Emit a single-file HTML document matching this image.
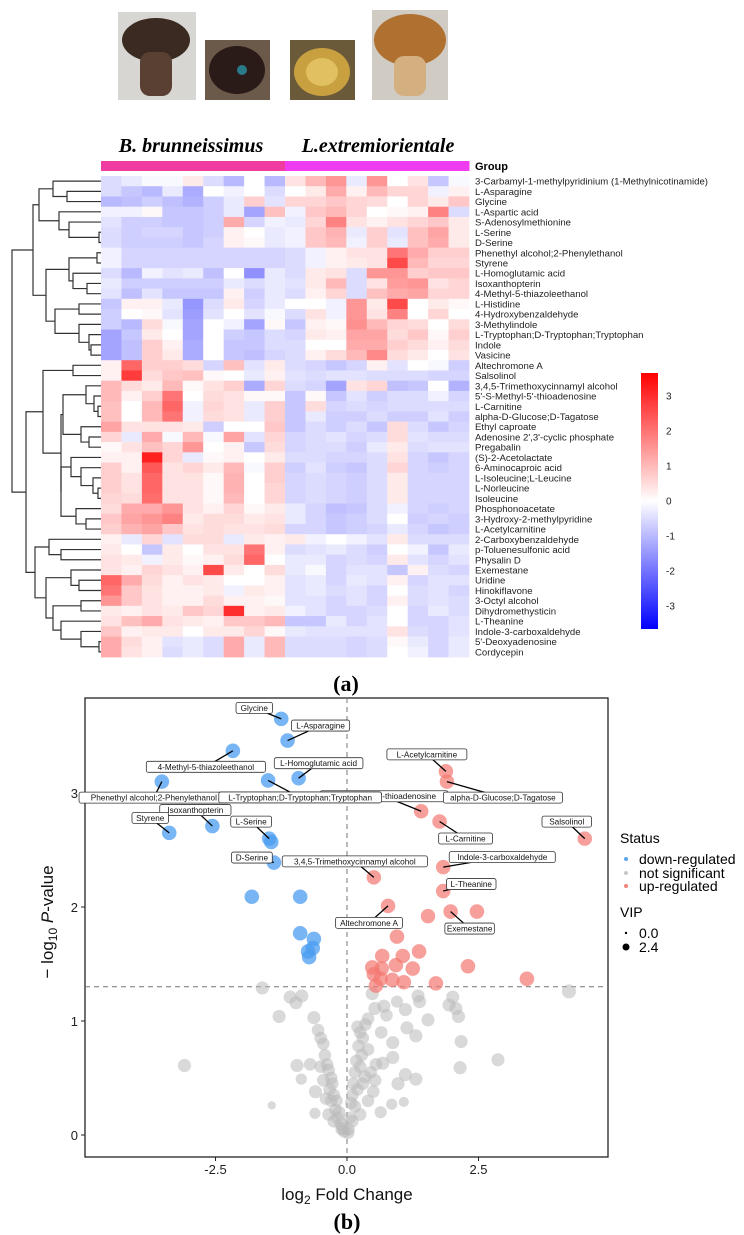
<!DOCTYPE html>
<html><head><meta charset="utf-8">
<style>
html,body{margin:0;padding:0;background:#fff;}
body{width:744px;height:1235px;overflow:hidden;font-family:"Liberation Sans",sans-serif;}
svg{display:block;}
</style></head>
<body>
<svg id="fig" width="744" height="1235" viewBox="0 0 744 1235" xmlns="http://www.w3.org/2000/svg">
  <defs>
    <linearGradient id="cbar" x1="0" y1="0" x2="0" y2="1">
      <stop offset="0" stop-color="#ff0000"/>
      <stop offset="0.5" stop-color="#ffffff"/>
      <stop offset="1" stop-color="#0000ff"/>
    </linearGradient>
  </defs>
  <g>
    <g>
      <rect x="118" y="12" width="78" height="88" fill="#d8d6d2"/>
      <ellipse cx="156" cy="40" rx="34" ry="22" fill="#3a2a22"/>
      <rect x="140" y="52" width="32" height="44" rx="10" fill="#5a4032"/>
    </g>
    <g>
      <rect x="205" y="40" width="65" height="60" fill="#6b5a4a"/>
      <ellipse cx="237" cy="70" rx="28" ry="24" fill="#2a1a18"/>
      <circle cx="242" cy="70" r="5" fill="#2a7a8a"/>
    </g>
    <g>
      <rect x="290" y="40" width="65" height="60" fill="#6a5a3a"/>
      <ellipse cx="322" cy="72" rx="28" ry="24" fill="#c8a040"/>
      <ellipse cx="322" cy="72" rx="16" ry="14" fill="#e0c060"/>
    </g>
    <g>
      <rect x="372" y="10" width="76" height="90" fill="#d0ccc4"/>
      <ellipse cx="410" cy="40" rx="36" ry="26" fill="#b07030"/>
      <rect x="394" y="56" width="32" height="40" rx="10" fill="#d4b080"/>
    </g>
  </g>
  <text x="191" y="152" text-anchor="middle" font-family="Liberation Serif,serif" font-style="italic" font-weight="bold" font-size="20" fill="#000">B. brunneissimus</text>
  <text x="378" y="152" text-anchor="middle" font-family="Liberation Serif,serif" font-style="italic" font-weight="bold" font-size="20" fill="#000">L.extremiorientale</text>

  <g id="heatmap"></g>
  <g id="dendro"></g>
  <g id="hlabels"></g>
  <text x="475" y="170" font-size="11" font-weight="bold" fill="#000">Group</text>

  <g>
    <rect x="641" y="373" width="17" height="256" fill="url(#cbar)"/>
    <g id="cbticks" font-size="10" fill="#222"></g>
  </g>
  <text x="346" y="691" text-anchor="middle" font-family="Liberation Serif,serif" font-weight="bold" font-size="22" fill="#000">(a)</text>

  <g id="volcano"></g>

  <g font-size="14" fill="#000">
    <text x="620" y="843">Status</text>
    <circle cx="626" cy="859" r="2" fill="#5aa8f0"/>
    <text x="639" y="864">down-regulated</text>
    <circle cx="626" cy="873" r="2" fill="#c8c8c8"/>
    <text x="639" y="878">not significant</text>
    <circle cx="626" cy="886" r="2" fill="#f4837d"/>
    <text x="639" y="891">up-regulated</text>
    <text x="620" y="917">VIP</text>
    <circle cx="626" cy="933" r="1.2" fill="#000"/>
    <text x="639" y="938">0.0</text>
    <circle cx="626" cy="947" r="3.5" fill="#000"/>
    <text x="639" y="952">2.4</text>
  </g>
  <text x="347" y="1229" text-anchor="middle" font-family="Liberation Serif,serif" font-weight="bold" font-size="22" fill="#000">(b)</text>
</svg>
<script>
const NS="http://www.w3.org/2000/svg";
const rowNames=["3-Carbamyl-1-methylpyridinium (1-Methylnicotinamide)","L-Asparagine","Glycine","L-Aspartic acid","S-Adenosylmethionine","L-Serine","D-Serine","Phenethyl alcohol;2-Phenylethanol","Styrene","L-Homoglutamic acid","Isoxanthopterin","4-Methyl-5-thiazoleethanol","L-Histidine","4-Hydroxybenzaldehyde","3-Methylindole","L-Tryptophan;D-Tryptophan;Tryptophan","Indole","Vasicine","Altechromone A","Salsolinol","3,4,5-Trimethoxycinnamyl alcohol","5'-S-Methyl-5'-thioadenosine","L-Carnitine","alpha-D-Glucose;D-Tagatose","Ethyl caproate","Adenosine 2',3'-cyclic phosphate","Pregabalin","(S)-2-Acetolactate","6-Aminocaproic acid","L-Isoleucine;L-Leucine","L-Norleucine","Isoleucine","Phosphonoacetate","3-Hydroxy-2-methylpyridine","L-Acetylcarnitine","2-Carboxybenzaldehyde","p-Toluenesulfonic acid","Physalin D","Exemestane","Uridine","Hinokiflavone","3-Octyl alcohol","Dihydromethysticin","L-Theanine","Indole-3-carboxaldehyde","5'-Deoxyadenosine","Cordycepin"];
const sampleGroups=["B","B","B","B","B","B","B","B","B","L","L","L","L","L","L","L","L","L"];
const heatValues=[
[-0.5,-0.3,-0.1,-0.1,0.3,-0.5,-1,0,-1,0.4,1,1.5,-0.3,1.5,0,0.4,-0.8,-0.1],
[-0.5,-0.8,-1,-0.3,-1.2,0,-0.2,0,-0.5,0,0.3,1.2,0.2,1,0.6,0.6,-0.2,0.2],
[-1,-0.9,-0.7,-0.9,-1.1,-0.7,-0.3,0.7,-0.4,0.6,0.6,0.8,0.6,0.5,0,0.6,0.3,0.8],
[-0.2,-0.2,0.1,-0.8,-0.8,-0.7,-0.3,-1.3,0.9,-0.2,0.8,1,0.6,0,0.1,0.2,1.8,-0.5],
[-0.4,-0.7,-0.7,-0.8,-0.8,-0.7,1.2,-0.6,-0.2,-0.3,0.6,1.8,0.4,0.2,0.4,0.6,0.8,0.3],
[-0.5,-0.7,-0.6,-0.6,-0.8,-0.7,0.2,0,-0.3,-0.2,0.8,1.1,-0.3,0.7,-0.4,0.9,1.3,0.3],
[-0.5,-0.7,-0.7,-0.7,-0.8,-0.6,0.2,0.1,-0.3,-0.2,0.8,1,-0.2,0.7,-0.3,0.9,1.2,0.3],
[-0.2,-0.6,-0.6,-0.6,-0.6,-0.6,-0.6,-0.6,-0.6,-0.5,-0.2,0.2,0.4,0.4,2,1.2,0.7,0.7],
[-0.2,-0.6,-0.6,-0.6,-0.6,-0.6,-0.6,-0.6,-0.6,-0.5,-0.2,0.2,0.3,0.4,2.6,1,0.6,0.6],
[-0.5,-1,-0.2,-0.4,-0.3,-0.9,0,-1.6,-0.3,-0.5,0.3,0.4,-0.5,1.5,1.5,0.7,0.8,0.8],
[-0.3,-0.7,-0.7,-0.7,-0.7,-0.7,-0.3,-0.5,-0.3,-0.4,0.3,1,-0.5,0.4,1.4,1.5,0.4,0.6],
[-0.4,-0.9,-0.4,-0.8,-0.8,-0.8,0.2,-0.7,-0.3,-0.5,0.2,0.6,-0.5,0.9,1.2,1.3,0.6,0.6],
[-0.8,0.2,0.2,-0.3,-1.5,-0.5,0.3,-0.6,-0.3,0,0,-0.2,1.5,0.3,2.6,0,0.3,0.1],
[-0.7,0,0.1,-0.4,-1.4,-0.4,0,-0.4,-0.1,-0.5,0.4,-0.2,1.5,0.4,1.8,0,0.6,0],
[-0.7,-1,0.5,-0.1,-1.3,0,-0.2,-1.3,0.1,-0.8,0.2,0.1,1.6,1,0.6,0.5,0,0.5],
[-1.3,-0.8,0.3,0,-1.3,0,-0.7,-0.8,-0.5,-0.6,0.3,0.2,1.3,1.3,0.5,0.8,0.1,0.7],
[-1.3,-0.9,0.7,0.2,-1.2,0,-0.8,-0.8,-0.5,-0.5,0,0,1.2,1.2,0.7,0.5,0.2,0.5],
[-1.3,-0.9,0.7,0.3,-1.2,0,-0.8,-0.9,-0.6,-0.5,0.2,0.5,1,1.7,0.5,0.3,0,0.4],
[0.2,2.2,0.7,0.7,0.5,-0.6,0.9,-0.4,0.3,-0.5,-0.6,-0.8,-0.6,0.2,-0.4,0,-0.1,-0.7],
[0.2,2.8,0.5,0.8,0.9,0.1,0,-0.3,0.2,-0.4,-0.5,-0.4,-0.4,-0.5,-0.5,-0.5,-0.6,-0.6],
[1,0.5,0.3,1,0.1,0.4,0.7,-1.2,0.6,-0.5,-0.6,-1.3,0.4,0.6,-0.9,-0.8,0,-1.1],
[1,0.2,0.7,2,0,0.5,0.4,0.1,0.1,-0.8,0.1,-0.8,-0.4,-0.7,-0.5,-0.5,-0.2,-0.6],
[0.9,0,1,2.2,-0.2,0.6,0.4,-0.3,0.7,-0.8,0.5,-0.6,-0.5,-0.6,-0.5,-0.5,-0.5,-0.5],
[0.9,0,1,2,-0.2,0.5,0.4,-0.3,0.7,-0.8,-0.3,-0.7,-0.7,-0.5,-0.7,-0.7,-0.4,-0.7],
[1.3,0.4,0.4,0.4,0.3,-0.7,0,0,0.8,-0.8,-0.5,-0.7,-0.5,-0.8,0.5,-0.5,-0.8,-0.6],
[0.6,-0.3,1.2,-0.1,1,-0.1,1.3,-0.4,0.6,-0.6,-0.5,-0.4,-0.6,-0.5,0.5,-0.4,-0.5,-0.5],
[0.1,0.4,0.9,0.6,1.5,0,0.2,-0.8,0.5,-0.6,-0.5,-0.5,-0.7,-0.3,0.3,-0.5,-0.4,-0.4],
[0.2,0.2,3.2,0.6,-0.3,0.1,0.2,0,0.3,-0.5,-0.5,-0.6,-0.6,-0.5,0.4,-0.6,-0.8,-0.6],
[0.7,0.2,2.4,0.4,0.6,0.3,1,-0.1,0.7,-0.7,-0.4,-0.7,-0.8,-0.5,0.6,-0.6,-0.7,-0.6],
[0.7,0.4,2.2,0.4,0.4,0.1,1.1,0,0.7,-0.6,-0.5,-0.6,-0.7,-0.5,0.3,-0.6,-0.6,-0.6],
[0.7,0.4,2.2,0.4,0.4,0.1,1.1,0,0.6,-0.6,-0.5,-0.6,-0.7,-0.5,0.3,-0.6,-0.6,-0.6],
[0.6,0.5,2.1,0.4,0.4,0.1,1,0,0.6,-0.6,-0.5,-0.6,-0.7,-0.5,0.3,-0.6,-0.6,-0.6],
[0.5,1.2,1.2,1.5,0.4,0.2,0.6,0.1,0.3,-0.3,-0.6,-0.9,-0.8,-0.5,-0.2,-0.6,-0.7,-0.6],
[0.8,1.3,1.5,1.8,0.3,0.5,0.5,0.3,0.4,-0.3,-0.6,-0.8,-0.7,-0.5,0,-0.7,-0.6,-0.7],
[0.7,1.1,1.3,0.8,0.4,0.5,0.4,0.4,0.5,-0.6,-0.6,-0.8,-0.7,-0.6,-0.3,-0.6,-0.8,-0.7],
[0.2,-0.3,0.6,-0.4,0.5,0.5,-0.3,0.3,0.2,0.3,-0.2,0,-0.2,-0.4,0.3,-0.5,-0.5,-0.5],
[0.3,0,-0.8,0.3,0,0.4,0.4,2,0.2,-0.5,-0.4,-0.3,-0.5,-0.7,0,-0.2,-0.8,-0.3],
[0.4,0.3,-0.2,0.3,0.1,0.2,0.5,2.2,0,-0.3,-0.3,-0.6,-0.5,-0.6,0.3,-0.4,-0.6,-0.4],
[0.4,0.2,0.6,0.4,0.2,2.6,0.3,0,0.5,-0.3,-0.1,-0.6,-0.4,-0.4,-0.8,0.2,-0.5,-0.6],
[2.2,1.2,0.5,0.2,0.4,0.3,0,0,0.2,-0.4,-0.3,-0.6,-0.3,-0.4,0.2,-0.6,-0.4,-0.4],
[2,0.8,0.4,0.2,0.2,0.3,-0.2,0.3,0.2,-0.4,-0.3,-0.5,-0.4,-0.6,0,-0.5,-0.4,-0.6],
[1.5,0.8,0.4,0.2,0.2,0.5,0.2,0.2,0.1,-0.4,-0.4,-0.6,-0.4,-0.6,0.2,-0.5,-0.4,-0.5],
[0.3,0.2,0.4,0.3,0.8,0.6,3,0.2,0.3,-0.2,-0.4,-0.6,-0.6,-0.5,0,-0.6,-0.3,-0.5],
[0.4,0.9,1.2,0.4,0.3,0.2,0.8,0.8,1,-0.8,-0.8,-0.3,-0.6,-0.4,0,-0.6,-0.6,-0.4],
[0.8,0.2,0.3,0.3,0,0.3,0.3,0.6,0.1,-0.3,-0.4,-0.4,-0.4,-0.4,0.4,-0.5,-0.6,-0.4],
[1.2,0.5,0.2,-0.4,-0.3,-0.5,1.2,-0.3,1,-0.5,-0.5,-0.5,-0.6,-0.5,0.1,-0.3,-0.6,-0.3],
[1.2,0.4,0.2,-0.5,-0.3,-0.5,1.2,-0.3,1,-0.5,-0.5,-0.5,-0.6,-0.5,0,-0.2,-0.6,-0.3]];
const cbTicks=[3,2,1,0,-1,-2,-3];
const dendroTree=[89,
 [68,[62,[48,0,[34,1,2]],[42,3,[32,4,[2,5,6]]]],
     [55,[32,[4,7,8],[28,9,[14,10,11]]],[46,[22,12,13],[22,14,[12,15,[10,16,17]]]]]],
 [75,[58,[28,18,19],[40,[38,[15,20,[7,21,[3,22,23]]],[20,24,[12,25,26]]],[40,[30,27,[20,28,[8,29,[3,30,31]]]],[25,32,[15,33,34]]]]],
     [66,[52,35,[40,36,37]],[55,[30,38,[22,39,40]],[48,[20,41,42],[40,43,[20,44,[2,45,46]]]]]]]];

const fcValues=[-1.25,-1.13,-2.17,-0.92,-3.52,-1.50,-2.56,-3.38,-1.48,-1.44,-1.39,-1.81,-0.89,-0.89,-0.63,-0.74,-0.65,-0.72,
 1.88,1.90,1.41,1.76,4.52,1.83,0.51,1.83,0.78,1.97,2.47,1.54,0.95,1.37,1.06,0.93,2.30,1.25,0.66,0.86,1.08,1.69,3.42,0.67,0.48,0.51,0.64,0.55,
 -1.61,4.22,-1.08,-0.86,-0.97,-1.29,-0.63,-3.09,-0.95,-0.87,-1.43,-0.61,-0.60,2.87,2.15,2.17,2.12,2.07,1.94,2.01,1.54,1.35,1.38,1.11,0.95,0.48,0.53,0.70,1.14,1.31,0.87,0.87,0.68,1.11,1.31,0.97,1.08,0.85,0.64,0.53,0.34,
 -0.55,-0.5,-0.45,-0.42,-0.38,-0.35,-0.5,-0.3,-0.28,-0.33,-0.25,-0.2,-0.3,-0.22,-0.15,-0.18,-0.12,-0.08,-0.05,-0.1,-0.25,-0.35,-0.4,-0.45,-0.7,
 0.2,0.25,0.3,0.35,0.22,0.28,0.18,0.25,0.15,0.12,0.2,0.3,0.1,0.08,0.15,0.05,0.1,0.03,0.02,0.4,0.45,0.5,0.55,0.4,0.25,0.65,0.75,0.4];
const pValues=[3.65,3.46,3.37,3.13,3.10,3.11,2.71,2.65,2.60,2.57,2.39,2.09,2.09,1.77,1.72,1.61,1.64,1.56,
 3.19,3.10,2.84,2.75,2.60,2.35,2.26,2.14,2.01,1.96,1.96,1.92,1.74,1.61,1.57,1.49,1.48,1.46,1.46,1.36,1.34,1.33,1.37,1.57,1.47,1.41,1.37,1.31,
 1.29,1.26,1.21,1.22,1.16,1.04,1.03,0.61,0.61,0.49,0.26,0.19,0.38,0.66,0.59,0.82,1.04,1.11,1.14,1.21,1.01,1.22,1.17,1.10,1.17,1.24,1.11,1.13,0.94,0.87,0.81,0.68,0.63,0.53,0.49,0.45,0.29,0.27,0.20,0.48,0.51,
 0.92,0.85,0.8,0.7,0.62,0.57,0.6,0.5,0.45,0.4,0.35,0.3,0.3,0.22,0.2,0.15,0.1,0.06,0.03,0.05,0.12,0.18,0.32,0.48,0.62,
 0.95,0.9,0.85,0.97,0.78,0.7,0.65,0.6,0.55,0.45,0.4,0.45,0.35,0.28,0.25,0.15,0.12,0.05,0.02,0.75,0.55,0.38,0.62,0.3,0.18,0.9,1.05,1.02];
const vipValues=[2.2,2.2,2.2,2.2,2.2,2.2,2.2,2.2,2.2,2.2,2.2,2.2,2.2,2.2,2.2,2.2,2.2,2.2,
 2.2,2.2,2.2,2.2,2.2,2.2,2.2,2.2,2.2,2.2,2.2,2.2,2.2,2.2,2.2,2.2,2.2,2.2,2.2,2.2,2.2,2.2,2.2,2.2,2.2,2.2,2.2,2.2,
 1.9,2.1,1.9,1.9,1.9,1.9,1.9,1.9,1.9,1.5,0.9,1.5,1.9,1.9,1.9,1.9,1.9,1.9,1.9,1.9,1.9,1.9,1.9,1.9,1.7,1.9,1.9,1.9,1.9,1.9,1.9,1.9,1.9,1.9,1.9,1.9,1.3,1.5,1.7,1.9,1.9,
 1.8,1.8,1.8,1.8,1.8,1.8,1.8,1.8,1.8,1.8,1.8,1.8,1.8,1.8,1.8,1.8,1.8,1.8,1.8,1.8,1.8,1.8,1.8,1.8,1.8,
 1.8,1.8,1.8,1.8,1.8,1.8,1.8,1.8,1.8,1.8,1.8,1.8,1.8,1.8,1.8,1.8,1.8,1.8,1.8,1.8,1.8,1.8,1.8,1.8,1.8,1.8,1.8,1.8];
const volcanoLabels=[["Glycine",0],["L-Asparagine",1],["4-Methyl-5-thiazoleethanol",2],["L-Homoglutamic acid",3],["Phenethyl alcohol;2-Phenylethanol",4],["5'-S-Methyl-5'-thioadenosine",20],["L-Tryptophan;D-Tryptophan;Tryptophan",5],["Isoxanthopterin",6],["Styrene",7],["L-Serine",8],["D-Serine",10],["L-Acetylcarnitine",18],["alpha-D-Glucose;D-Tagatose",19],["L-Carnitine",21],["Salsolinol",22],["Indole-3-carboxaldehyde",23],["3,4,5-Trimethoxycinnamyl alcohol",24],["L-Theanine",25],["Altechromone A",26],["Exemestane",27]];
const labelOffsets=[[-27,-11],[33,-15],[-27,16],[20,-15],[-8,16],[-37,-15],[32,17],[-17,-16],[-19,-15],[-18,-17],[-22,-5],[-19,-17],[56,16],[26,17],[-18,-17],[59,-10],[-19,-16],[28,-7],[-19,17],[19,17]];
const xTicks=[-2.5,0,2.5];
const yTicks=[0,1,2,3];
const pThreshold=1.3;

function el(tag,attrs,parent){const e=document.createElementNS(NS,tag);for(const k in attrs)e.setAttribute(k,attrs[k]);parent.appendChild(e);return e;}
function heatColor(v){const t=Math.min(1,Math.abs(v)/3.66);const c=Math.round(255*(1-t));return v>=0?`rgb(255,${c},${c})`:`rgb(${c},${c},255)`;}

const HX0=101,HX1=469,HY0=176,HY1=657;
const cw=(HX1-HX0)/sampleGroups.length, rh=(HY1-HY0)/rowNames.length;
const hm=document.getElementById('heatmap');
sampleGroups.forEach((g,j)=>{
  const r=el('rect',{x:HX0+j*cw,y:161,width:cw+0.5,height:10,fill:g==="B"?"#f03ca0":"#f03cf0"},hm);
  
  
});
heatValues.forEach((row,i)=>row.forEach((v,j)=>{
  const r=el('rect',{x:HX0+j*cw,y:HY0+i*rh,width:cw+0.4,height:rh+0.4,fill:heatColor(v)},hm);
  
  
}));
const hl=document.getElementById('hlabels');
rowNames.forEach((n,i)=>{
  const t=el('text',{x:475,y:HY0+(i+0.5)*rh+3.5,'font-size':9.6,fill:'#222'},hl);
  t.textContent=n;
  
  
});
const cbt=document.getElementById('cbticks');
cbTicks.forEach(v=>{
  const t=el('text',{x:666,y:501-v*35+3.5,'font-size':10,fill:'#222'},cbt);
  t.textContent=v;
  
  
});
const dg=document.getElementById('dendro');
function dnode(n){
  if(typeof n==="number")return {x:HX0,y:HY0+(n+0.5)*rh};
  const a=dnode(n[1]),b=dnode(n[2]);const x=HX0-n[0];
  const p=el('path',{d:`M${a.x},${a.y}H${x}V${b.y}H${b.x}`,fill:'none',stroke:'#333','stroke-width':1.2},dg);
  
  
  return {x:x,y:(a.y+b.y)/2};
}
dnode(dendroTree);

const V=document.getElementById('volcano');
const PX0=85,PX1=608,PY0=698,PY1=1157;
const sx=v=>347+v*52.6, sy=v=>1135-v*114;
el('rect',{x:PX0,y:PY0,width:PX1-PX0,height:PY1-PY0,fill:'none',stroke:'#222','stroke-width':1.3},V);
const vl=el('line',{x1:sx(0),x2:sx(0),y1:PY0,y2:PY1,stroke:'#777','stroke-dasharray':'5,4','stroke-width':1},V);


const hl2=el('line',{x1:PX0,x2:PX1,y1:sy(pThreshold),y2:sy(pThreshold),stroke:'#777','stroke-dasharray':'5,4','stroke-width':1},V);


xTicks.forEach(v=>{
  el('line',{x1:sx(v),x2:sx(v),y1:PY1,y2:PY1+4,stroke:'#222'},V);
  const t=el('text',{x:sx(v),y:PY1+17,'text-anchor':'middle','font-size':13,fill:'#222'},V);
  t.textContent=v.toFixed(1);
  
  
});
yTicks.forEach(v=>{
  el('line',{x1:PX0-4,x2:PX0,y1:sy(v),y2:sy(v),stroke:'#222'},V);
  const t=el('text',{x:PX0-7,y:sy(v)+5,'text-anchor':'end','font-size':13,fill:'#222'},V);
  t.textContent=v;
  
  
});
const xt=el('text',{x:347,y:1200,'text-anchor':'middle','font-size':17,fill:'#111'},V);
xt.innerHTML='log<tspan font-size="12" dy="4">2</tspan><tspan dy="-4"> Fold Change</tspan>';


const yt=el('text',{x:0,y:0,'text-anchor':'middle','font-size':17,fill:'#111',transform:'translate(53,922) rotate(-90)'},V);
yt.innerHTML='− log<tspan font-size="12" dy="4">10</tspan><tspan dy="-4"> </tspan><tspan font-style="italic">P</tspan>-value';


function status(i){if(pValues[i]<pThreshold)return 'ns';return fcValues[i]<0?'down':'up';}
const fills={down:'rgba(74,156,240,0.75)',up:'rgba(244,120,112,0.7)',ns:'rgba(185,185,185,0.55)'};
const order=[...fcValues.keys()].sort((a,b)=>(status(a)==='ns'?0:1)-(status(b)==='ns'?0:1));
order.forEach(i=>{
  const c=el('circle',{cx:sx(fcValues[i]),cy:sy(pValues[i]),r:2+vipValues[i]*2.4,fill:fills[status(i)]},V);
  
  
});
volcanoLabels.forEach((lab,k)=>{
  const i=lab[1];const px=sx(fcValues[i]),py=sy(pValues[i]);
  const bx=px+labelOffsets[k][0],by=py+labelOffsets[k][1];
  const w=lab[0].length*4.35+6;
  el('line',{x1:px,y1:py,x2:bx,y2:by,stroke:'#000','stroke-width':1.3},V);
  const g=el('g',{},V);
  
  
  el('rect',{x:bx-w/2,y:by-5.5,width:w,height:11,rx:2,fill:'#fff',stroke:'#333','stroke-width':0.8},g);
  const t=el('text',{x:bx,y:by+3,'text-anchor':'middle','font-size':8.2,fill:'#111'},g);
  t.textContent=lab[0];
});
</script>
</body></html>
